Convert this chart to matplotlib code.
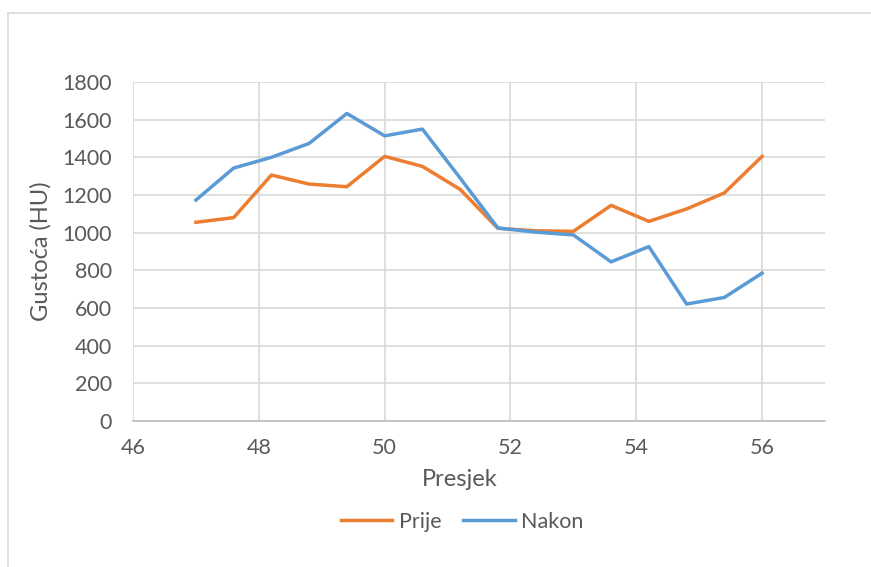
import matplotlib.pyplot as plt
from matplotlib.lines import Line2D

# cross-section positions and mean density before / after
presjek = [47, 47.6, 48.2, 48.8, 49.4, 50, 50.6, 51.2, 51.8, 52.4, 53, 53.6, 54.2, 54.8, 55.4, 56]
prije = [1055, 1080, 1306, 1258, 1244, 1405, 1352, 1230, 1023, 1010, 1007, 1145, 1060, 1126, 1211, 1405]
nakon = [1173, 1343, 1400, 1474, 1633, 1514, 1550, 1290, 1025, 1003, 988, 845, 926, 621, 656, 785]

x_ticks = [46, 48, 50, 52, 54, 56]
y_ticks = list(range(0, 1801, 200))

text_col = '#595959'
grid_col = '#d9d9d9'
plt.rcParams['font.family'] = ['Lato', 'DejaVu Sans']

W, H = 871, 567
fig = plt.figure(figsize=(W / 100, H / 100), dpi=100)
ax = fig.add_axes([133 / W, 1 - 421 / H, (825 - 133) / W, (421 - 82) / H])

ax.plot(presjek, prije, color='#ED7D31', lw=2.5, label='Prije', solid_joinstyle='round')
ax.plot(presjek, nakon, color='#5B9BD5', lw=2.5, label='Nakon', solid_joinstyle='round')

ax.set_xlim(46, 57)
ax.set_ylim(0, 1800)
ax.set_xticks(x_ticks)
ax.set_yticks(y_ticks)
ax.grid(True, color=grid_col, lw=1.2)
ax.set_axisbelow(True)

for s in ['top', 'right', 'left']:
    ax.spines[s].set_visible(False)
ax.spines['bottom'].set_color('#bfbfbf')
ax.spines['bottom'].set_linewidth(1.2)

ax.tick_params(axis='both', length=0, labelsize=15.5, labelcolor=text_col)
ax.tick_params(axis='x', pad=12)
ax.tick_params(axis='y', pad=15)

ax.set_xlabel('Presjek', fontsize=17, color=text_col)
ax.xaxis.label.set_va('center')
ax.xaxis.set_label_coords((460 - 133) / (825 - 133), (421 - 480) / (421 - 82))
ax.set_ylabel('Gustoća (HU)', fontsize=17, color=text_col)
ax.yaxis.label.set_va('center')
ax.yaxis.set_label_coords((41 - 133) / (825 - 133), 0.5)

fig.legend(loc='center', bbox_to_anchor=(462 / W, 1 - 522 / H), ncol=2, frameon=False,
           fontsize=15.5, labelcolor=text_col, handlelength=2.4, handletextpad=0.3,
           columnspacing=1.0)

# chart frame (top and left edges visible)
fig.add_artist(Line2D([8 / W, 8 / W], [0, 1 - 13 / H], color=grid_col, lw=1.2))
fig.add_artist(Line2D([8 / W, 1], [1 - 13 / H, 1 - 13 / H], color=grid_col, lw=1.2))

fig.savefig('out.png', dpi=100)
